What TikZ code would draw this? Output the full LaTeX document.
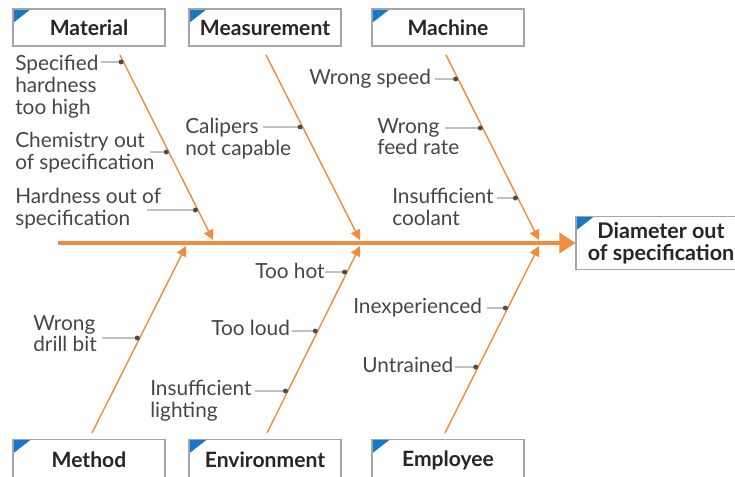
\documentclass[tikz,border=0pt]{standalone}
\usepackage{fontspec}
\setmainfont{Lato}
\usetikzlibrary{arrows.meta}
\definecolor{bone}{RGB}{240,140,60}
\definecolor{tag}{RGB}{24,120,200}
\definecolor{frame}{RGB}{165,165,165}
\definecolor{txt}{RGB}{70,70,70}
\tikzset{
  category/.style={rectangle, draw=frame, line width=0.8pt, fill=white, minimum width=3.8cm, minimum height=0.925cm,
    inner sep=0pt, font=\fontsize{15}{16}\selectfont\bfseries, text=black!85,
    path picture={\fill[tag] (path picture bounding box.north west) -- ++(0.45cm,0) -- ++(-0.45cm,-0.35cm) -- cycle;}},
  catlow/.style={category, minimum height=1.025cm},
  effect/.style={category, minimum width=4.25cm, minimum height=1.325cm, align=center,
    font=\fontsize{15.3}{15.5}\selectfont\bfseries},
  why/.style={anchor=north west, inner sep=0pt, align=left, text=txt, font=\fontsize{14.8}{15.5}\selectfont},
  spine/.style={draw=bone, line width=2.6pt, -{Triangle[length=0.4cm,width=0.5cm]}},
  bone/.style={draw=bone, line width=1pt, -{Triangle[length=0.25cm,width=0.25cm]}},
  cause/.style={draw=black!70, line width=0.6pt, -{Circle[length=3.5pt]}},
}
\begin{document}
\begin{tikzpicture}[x=0.025cm, y=-0.025cm]
  \useasboundingbox (0,0) rectangle (735,477);

  % categories and effect
  \node[category] (mat) at (89,27.5) {Material};
  \node[category] (mea) at (265,27.5) {Measurement};
  \node[category] (mac) at (448,27.5) {Machine};
  \node[catlow] (met) at (89,460) {Method};
  \node[catlow] (env) at (265,460) {Environment};
  \node[catlow] (emp) at (448,460) {Employee};
  \node[effect] (eff) at (661,243) {Diameter out\\of specification};

  % spine and bones
  \coordinate (tail) at (58,243);
  \coordinate (matT) at (120,55);  \coordinate (matH) at (213,240);
  \coordinate (meaT) at (266,55);  \coordinate (meaH) at (360,240);
  \coordinate (macT) at (446,55);  \coordinate (macH) at (539,240);
  \coordinate (metT) at (92,433);  \coordinate (metH) at (186,246);
  \coordinate (envT) at (267,433); \coordinate (envH) at (360,246);
  \coordinate (empT) at (445,433); \coordinate (empH) at (539,246);

  \draw[spine] (tail) -- (eff.west);
  \path (matT) edge[bone] (matH) (meaT) edge[bone] (meaH) (macT) edge[bone] (macH)
        (metT) edge[bone] (metH) (envT) edge[bone] (envH) (empT) edge[bone] (empH);

  % causes
  \node[why] (c1) at (15,55) {Specified\\hardness\\too high};
  \node[why] (c2) at (15,132) {Chemistry out\\of specification};
  \node[why] (c3) at (15,188) {Hardness out of\\specification};
  \node[why] (c4) at (185,118) {Calipers\\not capable};
  \node[why] (c5) at (309,69) {Wrong speed};
  \node[why] (c6) at (377,118) {Wrong\\feed rate};
  \node[why] (c7) at (392,188) {Insufficient\\coolant};
  \node[why] (c8) at (255,263) {Too hot};
  \node[why] (c9) at (211,320) {Too loud};
  \node[why] (c10) at (150,380) {Insufficient\\lighting};
  \node[why] (c11) at (33,315) {Wrong\\drill bit};
  \node[why] (c12) at (353,298) {Inexperienced};
  \node[why] (c13) at (362,357) {Untrained};

  \coordinate (e1) at (101,62);   \coordinate (d1) at (intersection of matT--matH and 0,62--10,62);
  \coordinate (e2) at (150,152);  \coordinate (d2) at (intersection of matT--matH and 0,152--10,152);
  \coordinate (e3) at (147,210);  \coordinate (d3) at (intersection of matT--matH and 0,210--10,210);
  \coordinate (e4) at (263,127);  \coordinate (d4) at (intersection of meaT--meaH and 0,127--10,127);
  \coordinate (e5) at (435,79);   \coordinate (d5) at (intersection of macT--macH and 0,79--10,79);
  \coordinate (e6) at (445,128);  \coordinate (d6) at (intersection of macT--macH and 0,128--10,128);
  \coordinate (e7) at (497,198);  \coordinate (d7) at (intersection of macT--macH and 0,198--10,198);
  \coordinate (e8) at (325,272);  \coordinate (d8) at (intersection of envT--envH and 0,272--10,272);
  \coordinate (e9) at (292,331);  \coordinate (d9) at (intersection of envT--envH and 0,331--10,331);
  \coordinate (e10) at (255,391); \coordinate (d10) at (intersection of envT--envH and 0,391--10,391);
  \coordinate (e11) at (102,338); \coordinate (d11) at (intersection of metT--metH and 0,338--10,338);
  \coordinate (e12) at (487,308); \coordinate (d12) at (intersection of empT--empH and 0,308--10,308);
  \coordinate (e13) at (455,367); \coordinate (d13) at (intersection of empT--empH and 0,367--10,367);

  \path (e1) edge[cause] (d1) (e2) edge[cause] (d2) (e3) edge[cause] (d3)
        (e4) edge[cause] (d4) (e5) edge[cause] (d5) (e6) edge[cause] (d6)
        (e7) edge[cause] (d7) (e8) edge[cause] (d8) (e9) edge[cause] (d9)
        (e10) edge[cause] (d10) (e11) edge[cause] (d11) (e12) edge[cause] (d12)
        (e13) edge[cause] (d13);
\end{tikzpicture}
\end{document}
